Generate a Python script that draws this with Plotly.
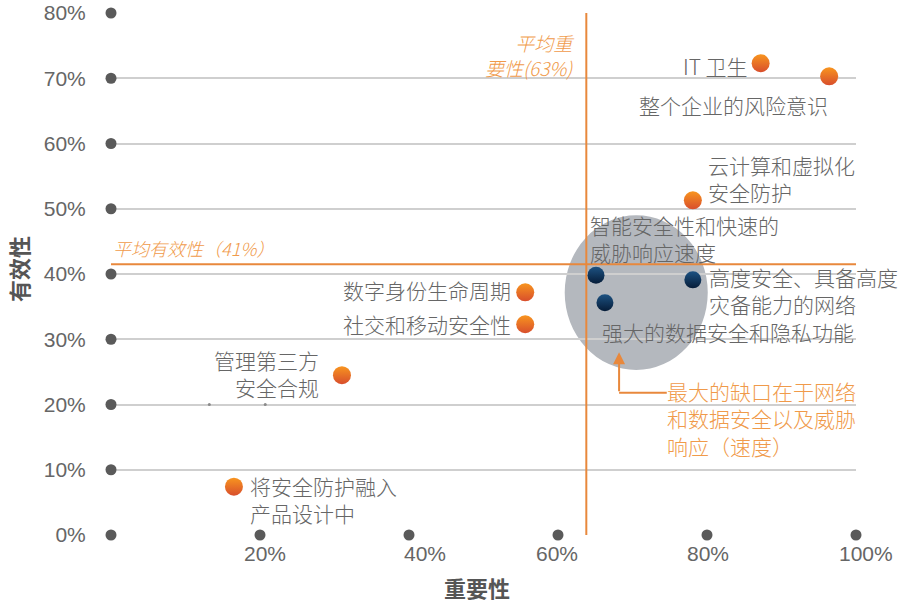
import plotly.graph_objects as go

# ---------------- data ----------------
orange_names = ["IT 卫生", "整个企业的风险意识", "云计算和虚拟化<br>安全防护", "数字身份生命周期",
                "社交和移动安全性", "管理第三方<br>安全合规", "将安全防护融入<br>产品设计中"]
orange_x = [87.2, 96.4, 78.1, 55.6, 55.6, 31.0, 16.5]
orange_y = [72.3, 70.3, 51.3, 37.2, 32.3, 24.5, 7.4]

blue_names = ["智能安全性和快速的<br>威胁响应速度", "高度安全、具备高度<br>灾备能力的网络", "强大的数据安全和隐私功能"]
blue_x = [65.1, 78.1, 66.3]
blue_y = [39.8, 39.1, 35.6]

avg_importance = 63.8
avg_effectiveness = 41.5
avg_importance_label = "平均重<br>要性(63%)"
avg_effectiveness_label = "平均有效性（41%）"
gap_label = "最大的缺口在于网络<br>和数据安全以及威胁<br>响应（速度）"

y_ticks = [0, 10, 20, 30, 40, 50, 60, 70, 80]
y_ticktext = ["0%", "10%", "20%", "30%", "40%", "50%", "60%", "70%", "80%"]
x_ticks = [20, 40, 60, 80, 100]
x_ticktext = ["20%", "40%", "60%", "80%", "100%"]

x_title = "重要性"
y_title = "有效性"

# ---------------- styling / placement ----------------
ORANGE_LINE = "#e8883c"
ORANGE_TXT = "#f09a4a"
GRAY_TXT = "#666666"
CJK = "Noto Sans CJK SC Light, Noto Sans CJK SC"
LABEL_FONT = dict(family=CJK, size=21, color=GRAY_TXT, weight=300)

W, H = 899, 604
ML, MR, MT, MB = 111, 43, 13, 69
pw, ph = W - ML - MR, H - MT - MB

# label placement (x, y, xanchor, align) for each marker label
orange_label_pos = [
    (85.8, 71.9, "right", "right"),
    (83.5, 65.9, "center", "center"),
    (79.9, 54.7, "left", "left"),
    (54.0, 37.5, "right", "right"),
    (54.0, 32.3, "right", "right"),
    (28.2, 24.7, "right", "right"),
    (18.4, 5.4, "left", "left"),
]
blue_label_pos = [
    (64.0, 45.4, "left", "left"),
    (80.0, 37.5, "left", "left"),
    (65.6, 31.1, "left", "left"),
]
x_label_pos = [20.7, 42.1, 59.9, 80.1, 101.3]

fig = go.Figure()

# axis end dots
fig.add_trace(go.Scatter(
    x=[0] * len(y_ticks) + x_ticks, y=y_ticks + [0] * len(x_ticks),
    mode="markers", marker=dict(size=11, color="#5a5a5a"),
    cliponaxis=False, hoverinfo="skip", showlegend=False))
fig.add_trace(go.Scatter(
    x=[13.2, 20.7], y=[20, 20], mode="markers",
    marker=dict(size=3, color="#8a8a8a"), hoverinfo="skip", showlegend=False))

# orange points
fig.add_trace(go.Scatter(
    x=orange_x, y=orange_y, mode="markers", text=orange_names,
    marker=dict(size=18, color="#f8951f", line=dict(width=0),
                gradient=dict(type="vertical", color="#d84e2c")),
    cliponaxis=False, showlegend=False))
# blue points
fig.add_trace(go.Scatter(
    x=blue_x, y=blue_y, mode="markers", text=blue_names,
    marker=dict(size=17, color="#1d5282", line=dict(width=0),
                gradient=dict(type="vertical", color="#061c38")),
    cliponaxis=False, showlegend=False))

shapes = [
    dict(type="circle", xref="x", yref="y", x0=60.9, x1=80.1, y0=25.3, y1=49.0,
         fillcolor="#b4b8be", line=dict(width=0), layer="below"),
    dict(type="line", xref="x", yref="y", x0=0, x1=100, y0=avg_effectiveness, y1=avg_effectiveness,
         line=dict(color=ORANGE_LINE, width=2), layer="between"),
    dict(type="line", xref="x", yref="y", x0=avg_importance, x1=avg_importance, y0=0, y1=80,
         line=dict(color=ORANGE_LINE, width=2), layer="between"),
    dict(type="line", xref="x", yref="y", x0=68.2, x1=74.6, y0=21.8, y1=21.8,
         line=dict(color=ORANGE_LINE, width=2), layer="above"),
]

annotations = []
for name, (x, y, xa, al) in zip(orange_names + blue_names, orange_label_pos + blue_label_pos):
    annotations.append(dict(x=x, y=y, xref="x", yref="y", text=name, showarrow=False,
                            xanchor=xa, yanchor="middle", align=al, font=LABEL_FONT))

for t, x in zip(x_ticktext, x_label_pos):
    annotations.append(dict(x=x / 100.0, y=0, xref="paper", yref="paper", text=t, showarrow=False,
                            xanchor="center", yanchor="middle", yshift=-18,
                            font=dict(family="Liberation Sans", size=21, color=GRAY_TXT)))

# averages
annotations.append(dict(x=0, y=44.0, xref="x", yref="y", text=avg_effectiveness_label, showarrow=False,
                        xanchor="left", yanchor="middle",
                        font=dict(family=CJK, size=18, color=ORANGE_TXT, style="italic", weight=300)))
annotations.append(dict(x=62.4, y=73.6, xref="x", yref="y", text=avg_importance_label, showarrow=False,
                        xanchor="right", yanchor="middle", align="right",
                        font=dict(family=CJK, size=19, color=ORANGE_TXT, style="italic", weight=300)))

# gap arrow + text
annotations.append(dict(x=68.2, y=28.0, xref="x", yref="y", ax=68.2, ay=21.8, axref="x", ayref="y",
                        text="", showarrow=True, arrowhead=2, arrowsize=1.2, arrowwidth=2,
                        arrowcolor=ORANGE_LINE))
annotations.append(dict(x=74.4, y=17.8, xref="x", yref="y", text=gap_label, showarrow=False,
                        xanchor="left", yanchor="middle", align="left",
                        font=dict(family=CJK, size=21, color=ORANGE_TXT, weight=300)))

# axis titles (placed in paper coords from pixel positions)
annotations.append(dict(x=(477 - ML) / pw, y=(H - MB - 587) / ph, xref="paper", yref="paper",
                        xanchor="center", yanchor="middle", text="<b>" + x_title + "</b>",
                        showarrow=False, font=dict(family="Noto Sans CJK SC", size=22, color="#555555")))
annotations.append(dict(x=(18 - ML) / pw, y=(H - MB - 269) / ph, xref="paper", yref="paper",
                        xanchor="center", yanchor="middle", text="<b>" + y_title + "</b>",
                        textangle=-90, showarrow=False,
                        font=dict(family="Noto Sans CJK SC", size=22, color="#555555")))

fig.update_layout(
    width=W, height=H, margin=dict(l=ML, r=MR, t=MT, b=MB, autoexpand=False),
    paper_bgcolor="white", plot_bgcolor="white",
    shapes=shapes, annotations=annotations, showlegend=False,
    xaxis=dict(range=[0, 100], showgrid=False, zeroline=False, showticklabels=False,
               showline=False, fixedrange=True, automargin=False),
    yaxis=dict(range=[0, 80], tickvals=y_ticks, ticktext=y_ticktext, showgrid=True,
               gridcolor="#cfcfcf", gridwidth=2, zeroline=False, showline=False,
               ticks="outside", ticklen=20, tickcolor="rgba(0,0,0,0)", automargin=False,
               tickfont=dict(family="Liberation Sans", size=21, color=GRAY_TXT), fixedrange=True),
)

fig.write_html("out.html", config={"displayModeBar": False},
               post_script="document.body.style.margin='0';document.body.style.overflow='hidden';")
